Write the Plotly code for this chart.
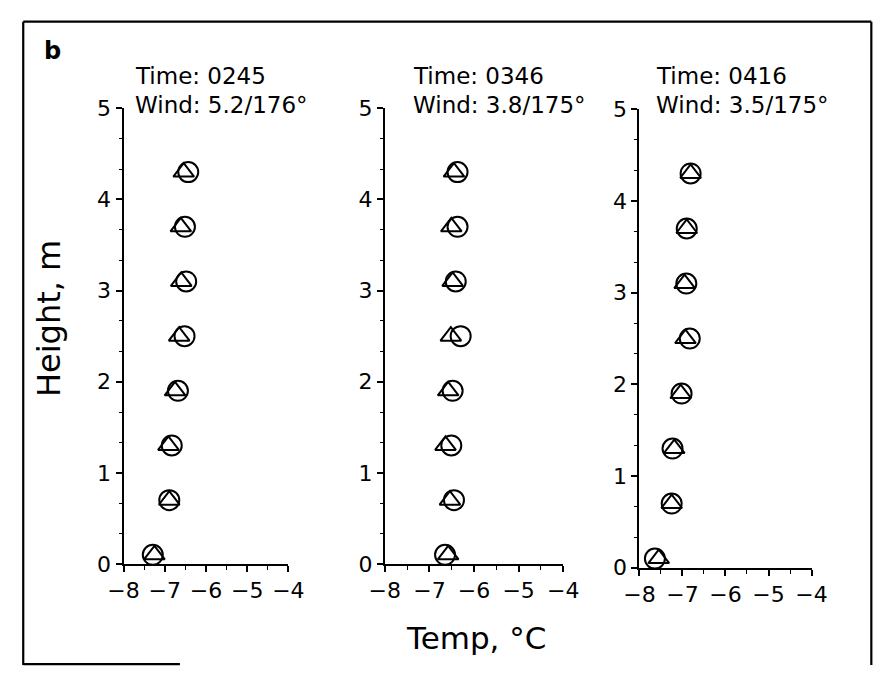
import plotly.graph_objects as go

# ---- data ----
heights = [0.1, 0.7, 1.3, 1.9, 2.5, 3.1, 3.7, 4.3]

p1_circle = [-7.29, -6.89, -6.83, -6.68, -6.52, -6.48, -6.51, -6.43]
p1_tri    = [-7.25, -6.89, -6.91, -6.75, -6.65, -6.60, -6.61, -6.54]
p2_circle = [-6.65, -6.45, -6.51, -6.48, -6.30, -6.41, -6.37, -6.37]
p2_tri    = [-6.58, -6.54, -6.64, -6.58, -6.52, -6.48, -6.51, -6.45]
p3_circle = [-7.64, -7.25, -7.23, -7.02, -6.83, -6.91, -6.90, -6.81]
p3_tri    = [-7.55, -7.25, -7.19, -7.04, -6.93, -6.95, -6.90, -6.81]

times = ["Time: 0245", "Time: 0346", "Time: 0416"]
winds = ["Wind: 5.2/176°", "Wind: 3.8/175°", "Wind: 3.5/175°"]

x_ticks = [-8, -7, -6, -5, -4]
y_ticks = [0, 1, 2, 3, 4, 5]

W, H = 896, 680
FONT = "DejaVu Sans"


def px(x):
    return x / W


def py(y):
    return 1 - y / H


# panel geometry in pixels: (x_left, x_right, y_bottom, y_top)
panels = [
    (111.5, 282.5, 573, 100),
    (382.5, 567.5, 573, 100),
    (646.5, 825.0, 577, 101),
]
text_x = [121, 410, 662]

fig = go.Figure()

series = [(p1_circle, p1_tri), (p2_circle, p2_tri), (p3_circle, p3_tri)]
for i, (circ, tri) in enumerate(series):
    xa = "x" if i == 0 else f"x{i+1}"
    ya = "y" if i == 0 else f"y{i+1}"
    fig.add_trace(go.Scatter(
        x=tri, y=heights, xaxis=xa, yaxis=ya, mode="markers",
        marker=dict(symbol="triangle-up-open", size=18, color="black",
                    line=dict(width=2, color="black")),
        cliponaxis=False, showlegend=False, hoverinfo="skip"))
    fig.add_trace(go.Scatter(
        x=circ, y=heights, xaxis=xa, yaxis=ya, mode="markers",
        marker=dict(symbol="circle-open", size=20, color="black",
                    line=dict(width=2, color="black")),
        cliponaxis=False, showlegend=False, hoverinfo="skip"))

layout = dict(
    width=W, height=H, margin=dict(l=0, r=0, t=0, b=0),
    paper_bgcolor="white", plot_bgcolor="white",
    font=dict(family=FONT, color="black", size=22),
    showlegend=False,
)

for i, (xl, xr, yb, yt) in enumerate(panels):
    xk = "xaxis" if i == 0 else f"xaxis{i+1}"
    yk = "yaxis" if i == 0 else f"yaxis{i+1}"
    ya_name = "y" if i == 0 else f"y{i+1}"
    xa_name = "x" if i == 0 else f"x{i+1}"
    layout[xk] = dict(
        domain=[px(xl), px(xr)], anchor=ya_name, range=[-8, -4],
        tickvals=x_ticks, ticks="outside", ticklen=6, tickwidth=1.6,
        tickcolor="black", showline=True, linecolor="black", linewidth=1.8,
        showgrid=False, zeroline=False, tickfont=dict(size=22, family=FONT),
        minor=dict(dtick=0.5, tick0=-8, ticks="outside", ticklen=4,
                   tickwidth=1.4, tickcolor="black", showgrid=False),
        fixedrange=True,
    )
    layout[yk] = dict(
        domain=[py(yb), py(yt)], anchor=xa_name, range=[0, 5],
        tickvals=y_ticks, ticks="outside", ticklen=6, tickwidth=1.6,
        tickcolor="black", showline=True, linecolor="black", linewidth=2,
        showgrid=False, zeroline=False, tickfont=dict(size=22, family=FONT),
        minor=dict(dtick=1/3, tick0=0, ticks="outside", ticklen=3,
                   tickwidth=1.4, tickcolor="black", showgrid=False),
        fixedrange=True,
    )

fig.update_layout(**layout)

annotations = []
for i in range(3):
    annotations.append(dict(x=px(text_x[i]), y=py(66), xref="paper", yref="paper",
                            text=times[i], showarrow=False, xanchor="left",
                            yanchor="middle", font=dict(size=23, family=FONT)))
    annotations.append(dict(x=px(text_x[i]), y=py(97), xref="paper", yref="paper",
                            text=winds[i], showarrow=False, xanchor="left",
                            yanchor="middle", font=dict(size=23, family=FONT)))
annotations.append(dict(x=px(477), y=py(650), xref="paper", yref="paper",
                        text="Temp, °C", showarrow=False, xanchor="center",
                        yanchor="middle", font=dict(size=31, family=FONT)))
annotations.append(dict(x=px(35), y=py(318), xref="paper", yref="paper",
                        text="Height, m", showarrow=False, textangle=-90,
                        xanchor="center", yanchor="middle",
                        font=dict(size=32, family=FONT)))
annotations.append(dict(x=px(38), y=py(40), xref="paper", yref="paper",
                        text="<b>b</b>", showarrow=False, xanchor="center",
                        yanchor="middle", font=dict(size=24, family=FONT)))
fig.update_layout(annotations=annotations)

# outer frame (scanned figure border)
frame = [
    (7.5, 10, 887, 10),
    (7.5, 10, 7.5, 678),
    (887, 10, 887, 678),
    (7.5, 677, 170, 677),
]
shapes = []
for x0, y0, x1, y1 in frame:
    shapes.append(dict(type="line", xref="paper", yref="paper",
                       x0=px(x0), y0=py(y0), x1=px(x1), y1=py(y1),
                       line=dict(color="black", width=2.2)))
fig.update_layout(shapes=shapes)

fig.write_html("out.html")
